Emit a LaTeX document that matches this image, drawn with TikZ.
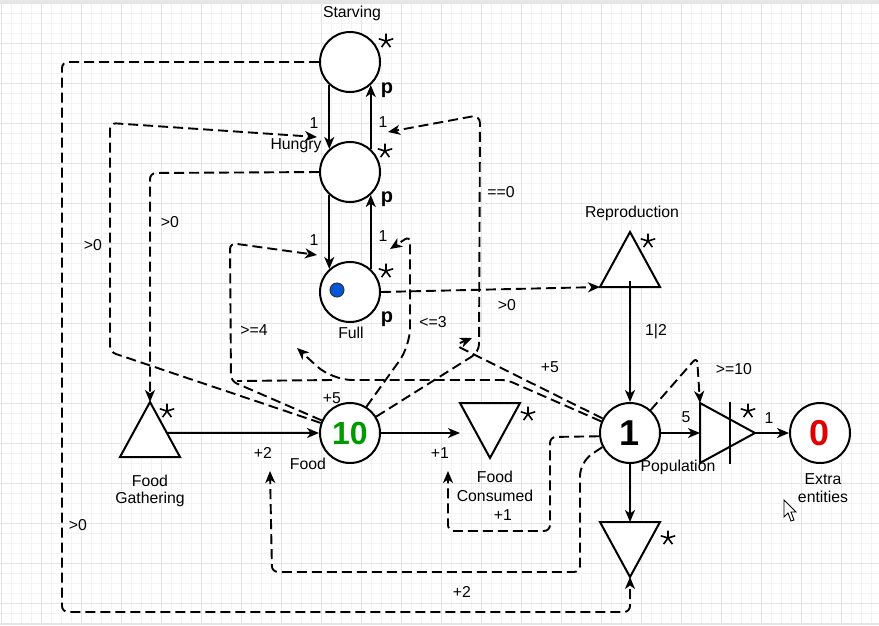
\documentclass[tikz,border=0pt]{standalone}
\usepackage{fontspec}
\setmainfont{Liberation Sans}
\usetikzlibrary{arrows.meta,calc}
\definecolor{gridmajor}{HTML}{E4E4E4}
\definecolor{gridminor}{HTML}{F3F3F3}
\definecolor{barcol}{HTML}{E6E6E6}
\definecolor{poolgreen}{HTML}{009A00}
\definecolor{poolred}{HTML}{E00000}
\definecolor{dotblue}{HTML}{0058D8}
\newcommand\mstar[1]{\draw[starl] (#1) -- ++(0,-7.5) (#1) -- ++(7.2,-2.2) (#1) -- ++(4.4,6.1) (#1) -- ++(-4.4,6.1) (#1) -- ++(-7.2,-2.2);}
\begin{document}
\begin{tikzpicture}[x=1pt,y=-1pt,
  every node/.style={font=\fontsize{15.8}{18}\selectfont, inner sep=0pt},
  lab/.style={text=black},
  circ/.style={circle, draw, line width=2pt, minimum size=60pt, inner sep=0pt, fill=white},
  tribox/.style={minimum width=60pt, minimum height=55pt, inner sep=0pt, outer sep=0pt},
  convbox/.style={minimum width=55pt, minimum height=60pt, inner sep=0pt, outer sep=0pt},
  shp/.style={line width=2pt, line join=miter, fill=white},
  flow/.style={line width=2pt, -{Stealth[length=12pt,width=10pt,inset=3.5pt]}},
  stateline/.style={line width=1.9pt, dash pattern=on 10pt off 5pt, rounded corners=6pt},
  state/.style={stateline, -{Stealth[length=12pt,width=10pt,inset=3.5pt]}},
  starl/.style={line width=1.6pt},
  pmark/.style={font=\fontsize{20}{20}\selectfont\bfseries},
  bignum/.style={font=\fontsize{36}{36}\selectfont\bfseries},
]
\useasboundingbox (0,0) rectangle (879,625);
\fill[white] (0,0) rectangle (879,625);
% grid
\foreach \x in {1,11,...,871} \draw[gridminor, line width=0.8pt] (\x,0) -- (\x,625);
\foreach \y in {3,13,...,623} \draw[gridminor, line width=0.8pt] (0,\y) -- (879,\y);
\foreach \x in {1,41,...,871} \draw[gridmajor, line width=1pt] (\x,0) -- (\x,625);
\foreach \y in {3,43,...,603} \draw[gridmajor, line width=1pt] (0,\y) -- (879,\y);
\fill[barcol] (0,0) rectangle (879,3);
\fill[barcol] (0,623) rectangle (879,625);

% ---------- nodes ----------
\node[circ] (starv) at (350,62) {};
\node[circ] (hungry) at (350,172) {};
\node[circ] (full) at (350,292) {};
\node[circ, font=\fontsize{32}{32}\selectfont\bfseries, text=poolgreen] (food) at (350,433) {10};
\node[circ, bignum] (pop) at (630,433) {1};
\node[circ, bignum, text=poolred] (extra) at (820,433) {0};
\node[tribox] (gath) at (150,429.5) {};
\node[tribox] (cons) at (490,430.5) {};
\node[tribox] (repro) at (630,259.5) {};
\node[tribox] (drain) at (630,549.5) {};
\node[convbox] (conv) at (727.5,433) {};
\node[circle, fill=dotblue, draw=black!80, line width=1pt, minimum size=14pt] (dot) at (337,290) {};

% triangles
\draw[shp] (gath.south west) -- (gath.south east) -- (gath.north) -- cycle;
\draw[shp] (repro.south west) -- (repro.south east) -- (repro.north) -- cycle;
\draw[shp] (cons.north west) -- (cons.north east) -- (cons.south) -- cycle;
\draw[shp] (drain.north west) -- (drain.north east) -- (drain.south) -- cycle;
\draw[shp] (conv.north west) -- (conv.east) -- (conv.south west) -- cycle;
\draw[line width=2pt] ([xshift=30pt,yshift=1pt]conv.north west) -- ([xshift=30pt,yshift=-1pt]conv.south west);

% stars
\mstar{386,41}
\mstar{385,151}
\mstar{386,271}
\mstar{648,241}
\mstar{167,411}
\mstar{528,414}
\mstar{748,411}
\mstar{668,538}

% ---------- flows ----------
\draw[flow] (starv.-132) -- (hungry.132);
\draw[flow] (hungry.48) -- (starv.-48);
\draw[flow] (hungry.-132) -- (full.132);
\draw[flow] (full.48) -- (hungry.-48);
\draw[flow] ([yshift=6pt]repro.south) -- (pop.north);
\draw[flow] (pop.east) -- (conv.west);
\draw[flow] (conv.east) -- (extra.west);
\draw[flow] (pop.south) -- (drain.north);
\draw[flow] ($(gath.north)!0.56!(gath.south east)$) -- (food.west |- 0,433);
\draw[flow] (food.east) -- (cons.west |- food.east);

% ---------- target points ----------
\coordinate (tA) at (317,137);
\coordinate (tB) at (388,132);
\coordinate (tC) at (317,255);
\coordinate (tD) at (390,249);
\coordinate (tE) at (472,338);
\coordinate (tF) at (297,348);
\coordinate (tG) at (448,471);
\coordinate (tH) at (270,471);
\coordinate (jA) at (332,380);
\coordinate (jB) at (237,381);

% ---------- state connections ----------
\draw[state] (starv.west) -- (62,62) -- (62,612) -- (630,612) -- (drain.south);
\draw[state] (food.161) -- (110,352) -- (110,123) -- (tA);
\draw[state] (hungry.west) -- (150,173) -- (gath.north);
\draw[state] (food.156) -- (231,381) -- (230,243) -- (tC);
\draw[state] (food.58) [rounded corners=18pt] -- (410,346) [rounded corners=6pt] -- (410,236) -- (tD);
\draw[state] (food.32) [rounded corners=8pt] -- (479,352) -- (480,115) -- (tB);
\draw[state] (full.east) -- (repro.south west);
\draw[state] (pop.152) -- (455,345) -- (tE);
\draw[state] (pop.158) -- (507,380) [rounded corners=20pt] -- (jA) -- (tF);
\draw[stateline] (jA) -- (jB);
\draw[state] (pop.186) -- (550,437) -- (550,531) -- (448,531) -- (tG);
\draw[state] (pop.207) [rounded corners=14pt] -- (580,462) [rounded corners=6pt] -- (580,572) -- (272,572) -- (tH);
\draw[state] (pop.48) -- (697,357) -- (conv.north west);

% ---------- labels ----------
\node[lab] (lStarv) at (352,13) {Starving};
\node[lab] (lHungry) at (296,146) {Hungry};
\node[lab] (lFull) at (351,333) {Full};
\node[lab] (lRepro) at (632,213) {Reproduction};
\node[lab] (lPop) at (678,467) {Population};
\node[lab] (lExtraA) at (823,479) {Extra};
\node[lab] (lExtraB) at (823,497) {entities};
\node[lab] (lFood) at (308,464) {Food};
\node[lab] (lGathA) at (150,481) {Food};
\node[lab] (lGathB) at (150,499) {Gathering};
\node[lab] (lConsA) at (495,477) {Food};
\node[lab] (lConsB) at (495,496) {Consumed};

\node[lab] (n1) at (314,123) {1};
\node[lab] (n2) at (383,122) {1};
\node[lab] (n3) at (314,240) {1};
\node[lab] (n4) at (383,236) {1};
\node[lab] (n5) at (93,245) {>0};
\node[lab] (n6) at (170,222) {>0};
\node[lab] (n7) at (254,330) {>=4};
\node[lab] (n8) at (433,322) {<=3};
\node[lab] (n9) at (501,192) {==0};
\node[lab] (n10) at (507,305) {>0};
\node[lab] (n11) at (550,367) {+5};
\node[lab] (n12) at (332,398) {+5};
\node[lab] (n13) at (656,331) {1|2};
\node[lab] (n14) at (734,369) {>=10};
\node[lab] (n15) at (686,417) {5};
\node[lab] (n16) at (769,418) {1};
\node[lab] (n17) at (263,453) {+2};
\node[lab] (n18) at (440,453) {+1};
\node[lab] (n19) at (503,515) {+1};
\node[lab] (n20) at (78,525) {>0};
\node[lab] (n21) at (462,592) {+2};

\node[pmark] (p1) at (387,90) {p};
\node[pmark] (p2) at (387,199) {p};
\node[pmark] (p3) at (387,319) {p};

% cursor
\draw[line width=0.9pt, fill=white, line join=miter] (784,500) -- (784,517) -- (788,513) -- (791,521) -- (794,520) -- (791,512) -- (796,512) -- cycle;
\end{tikzpicture}
\end{document}
